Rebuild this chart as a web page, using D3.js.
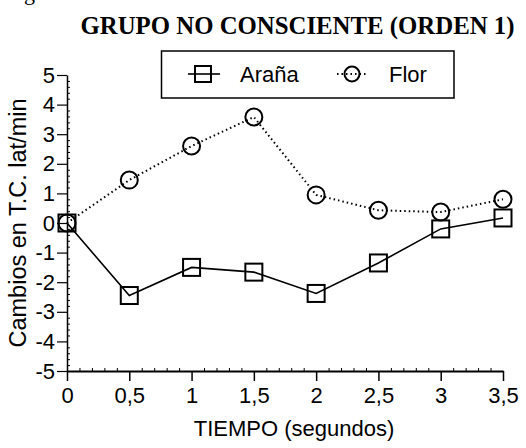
<!DOCTYPE html>
<html><head><meta charset="utf-8">
<script src="https://cdn.jsdelivr.net/npm/d3@7"></script>
<style>body{margin:0;background:#fff}svg{display:block}</style>
</head><body>
<svg id="c" width="526" height="448"></svg>
<script>
const times = [0, 0.5, 1, 1.5, 2, 2.5, 3, 3.5];
const arana = [0, -2.45, -1.5, -1.66, -2.38, -1.35, -0.2, 0.17];
const flor = [0, 1.45, 2.6, 3.58, 0.95, 0.43, 0.37, 0.8];
const xTicks = [0, 0.5, 1, 1.5, 2, 2.5, 3, 3.5];
const yTicks = [-5, -4, -3, -2, -1, 0, 1, 2, 3, 4, 5];
const title = "GRUPO NO CONSCIENTE (ORDEN 1)";
const xLabel = "TIEMPO (segundos)";
const yLabel = "Cambios en T.C. lat/min";
const seriesNames = ["Araña", "Flor"];

const svg = d3.select("#c");
const sans = "Arial, 'Liberation Sans', sans-serif";
const x = d3.scaleLinear().domain([0, 3.5]).range([67, 503]);
const y = d3.scaleLinear().domain([-5, 5]).range([371, 75]);

// cut-off text at top-left (from reference)
svg.append("text").attr("x", 24).attr("y", 0).attr("font-family", "'Liberation Serif', 'Times New Roman', serif")
  .attr("font-size", 22).text("g");

// title
svg.append("text").attr("x", 297.5).attr("y", 34).attr("text-anchor", "middle")
  .attr("font-family", "'Liberation Serif', 'Times New Roman', serif").attr("font-weight", "bold")
  .attr("font-size", 24.8).text(title);

// axes
const fmt = d => String(d).replace(".", ",");
const xAxis = svg.append("g").attr("transform", "translate(0,371)")
  .call(d3.axisBottom(x).tickValues(xTicks).tickSize(10).tickSizeOuter(0).tickPadding(6).tickFormat(fmt));
xAxis.select(".domain").attr("stroke-width", 2);
xAxis.selectAll(".tick line").attr("stroke-width", 1.5);
xAxis.selectAll("text").attr("font-family", sans).attr("font-size", 22).attr("fill", "#000");

const yAxis = svg.append("g").attr("transform", "translate(67,0)")
  .call(d3.axisLeft(y).tickValues(yTicks).tickSize(10).tickSizeOuter(0).tickPadding(2).tickFormat(d => String(d)));
yAxis.select(".domain").attr("stroke-width", 1.5);
yAxis.selectAll(".tick line").attr("stroke-width", 1.2);
yAxis.selectAll("text").attr("font-family", sans).attr("font-size", 22).attr("fill", "#000");

// minor ticks
const yMinor = d3.range(-5, 5.001, 0.2).filter(v => Math.abs(v - Math.round(v)) > 1e-6);
svg.append("g").attr("transform", "translate(67,0)")
  .call(d3.axisRight(y).tickValues(yMinor).tickSize(3).tickFormat(""))
  .call(g => g.select(".domain").remove());
const xMinor = d3.range(0, 3.501, 0.1).filter(v => Math.abs(v * 2 - Math.round(v * 2)) > 1e-6);
svg.append("g").attr("transform", "translate(0,371)")
  .call(d3.axisTop(x).tickValues(xMinor).tickSize(3).tickFormat(""))
  .call(g => g.select(".domain").remove());

// axis labels
svg.append("text").attr("x", 294).attr("y", 436).attr("text-anchor", "middle")
  .attr("font-family", sans).attr("font-size", 22).text(xLabel);
svg.append("text").attr("transform", "translate(26,223) rotate(-90)").attr("text-anchor", "middle")
  .attr("font-family", sans).attr("font-size", 23.5).text(yLabel);

// lines
const line = d3.line().x((d, i) => x(times[i])).y(d => y(d));
svg.append("path").datum(flor).attr("d", line).attr("fill", "none").attr("stroke", "#000")
  .attr("stroke-width", 2).attr("stroke-dasharray", "1.5,3");
svg.append("path").datum(arana).attr("d", line).attr("fill", "none").attr("stroke", "#000")
  .attr("stroke-width", 1.6);

// markers
const S = 17;
svg.append("g").selectAll("rect").data(arana).join("rect")
  .attr("x", (d, i) => x(times[i]) - S / 2).attr("y", d => y(d) - S / 2)
  .attr("width", S).attr("height", S).attr("fill", "none").attr("stroke", "#000").attr("stroke-width", 2);
svg.append("g").selectAll("circle").data(flor).join("circle")
  .attr("cx", (d, i) => x(times[i])).attr("cy", d => y(d)).attr("r", 8.5)
  .attr("fill", "none").attr("stroke", "#000").attr("stroke-width", 2);

// legend
const lg = svg.append("g");
lg.append("rect").attr("x", 161.5).attr("y", 51).attr("width", 292.5).attr("height", 47)
  .attr("fill", "none").attr("stroke", "#000").attr("stroke-width", 1.5);
lg.append("line").attr("x1", 188).attr("x2", 220).attr("y1", 74).attr("y2", 74).attr("stroke", "#000").attr("stroke-width", 1.6);
lg.append("rect").attr("x", 203 - 8).attr("y", 74 - 8).attr("width", 16).attr("height", 16)
  .attr("fill", "none").attr("stroke", "#000").attr("stroke-width", 2);
lg.append("text").attr("x", 240).attr("y", 82).attr("font-family", sans).attr("font-size", 22).text(seriesNames[0]);
lg.append("line").attr("x1", 337).attr("x2", 367).attr("y1", 74).attr("y2", 74).attr("stroke", "#000")
  .attr("stroke-width", 2).attr("stroke-dasharray", "1.5,3");
lg.append("circle").attr("cx", 352).attr("cy", 74).attr("r", 7.5).attr("fill", "none").attr("stroke", "#000").attr("stroke-width", 2);
lg.append("text").attr("x", 389).attr("y", 82).attr("font-family", sans).attr("font-size", 22).text(seriesNames[1]);
</script>
</body></html>
